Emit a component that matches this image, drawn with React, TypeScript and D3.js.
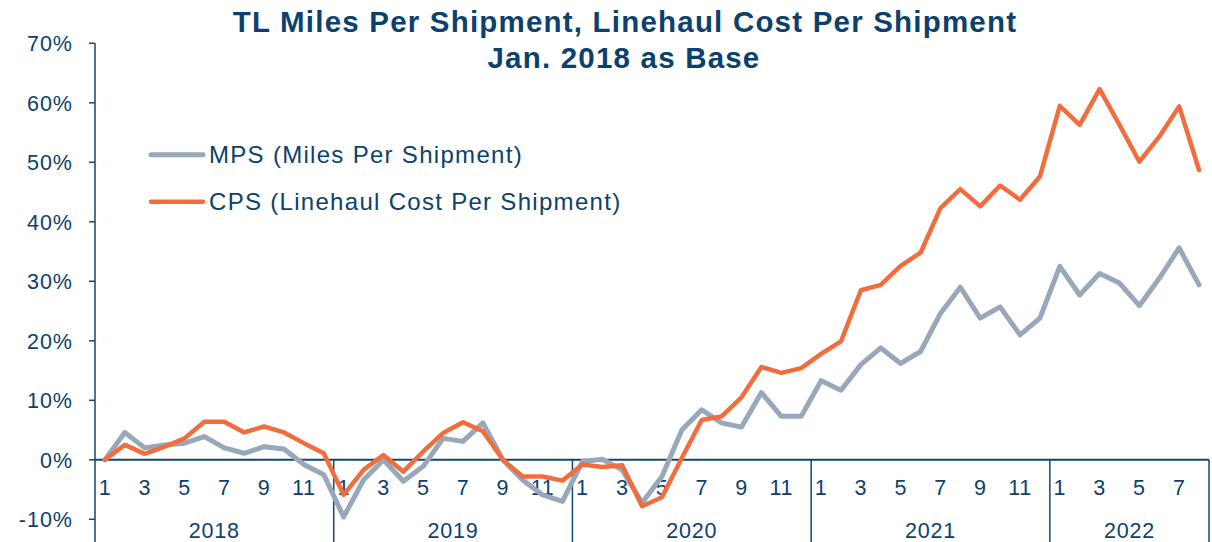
import React from "react";
import * as d3 from "d3";

const years = ["2018", "2019", "2020", "2021", "2022"];
const monthsPerYear = [12, 12, 12, 12, 8];
const yTicks = [-10, 0, 10, 20, 30, 40, 50, 60, 70];

const mps = [
  0, 4.6, 2.0, 2.5, 2.8, 3.9, 2.0, 1.1, 2.2, 1.8, -0.8, -2.5,
  -9.6, -3.4, 0, -3.6, -1.1, 3.6, 3.1, 6.2, 0, -3.4, -5.9, -7.0,
  -0.3, 0.1, -1.7, -7.2, -2.8, 5.0, 8.4, 6.2, 5.5, 11.3, 7.3, 7.3,
  13.3, 11.7, 16.0, 18.8, 16.2, 18.2, 24.6, 29.0, 23.8, 25.7, 21.0, 23.8,
  32.5, 27.7, 31.3, 29.7, 25.9, 30.5, 35.6, 29.4,
];

const cps = [
  0, 2.5, 1.0, 2.2, 3.6, 6.4, 6.4, 4.6, 5.6, 4.6, 2.8, 1.1,
  -5.9, -1.7, 0.8, -2.0, 1.4, 4.5, 6.3, 4.8, 0, -2.8, -2.8, -3.5,
  -0.8, -1.2, -0.9, -7.8, -6.3, 0.3, 6.7, 7.3, 10.5, 15.6, 14.6, 15.4,
  17.8, 19.9, 28.5, 29.4, 32.6, 34.8, 42.3, 45.5, 42.6, 46.1, 43.7, 47.6,
  59.5, 56.3, 62.3, 56.3, 50.1, 54.3, 59.4, 48.7,
];

const seriesNames = ["MPS (Miles Per Shipment)", "CPS (Linehaul Cost Per Shipment)"];

const W = 1212;
const H = 542;
const FONT = "'Liberation Sans', Arial, sans-serif";
const TEXT = "#0c416d";
const AXIS = "#15466f";
const GRAY = "#98a8ba";
const ORANGE = "#f26d3d";

export default function App() {
  const cats: { key: string; year: number; month: number }[] = [];
  years.forEach((y, yi) => {
    for (let m = 1; m <= monthsPerYear[yi]; m++) cats.push({ key: `${y}-${m}`, year: yi, month: m });
  });

  const left = 95;
  const right = 1209;
  const x = d3.scaleBand<string>().domain(cats.map((c) => c.key)).range([left, right]).paddingInner(0).paddingOuter(0);
  const y = d3.scaleLinear().domain([-10, 70]).range([519.3, 43.3]);
  const cx = (k: string) => (x(k) as number) + x.bandwidth() / 2;

  const line = d3
    .line<number>()
    .x((_, i) => cx(cats[i].key))
    .y((d) => y(d));

  const y0 = y(0);

  const bounds: number[] = [];
  let idx = 0;
  monthsPerYear.forEach((n) => {
    bounds.push(x(cats[idx].key) as number);
    idx += n;
  });
  bounds.push(right);

  return (
    <svg
      width={W}
      height={H}
      style={{ position: "absolute", left: 0, top: 0, background: "#fff" }}
      fontFamily={FONT}
    >
      <rect x={0} y={0} width={W} height={H} fill="#fff" />
      <text x={625} y={31.5} textAnchor="middle" fontSize={29.5} fontWeight="bold" fill={TEXT} letterSpacing={1.2}>
        TL Miles Per Shipment, Linehaul Cost Per Shipment
      </text>
      <text x={624} y={68} textAnchor="middle" fontSize={29.5} fontWeight="bold" fill={TEXT} letterSpacing={1.2}>
        Jan. 2018 as Base
      </text>

      <line x1={left} x2={left} y1={y(70)} y2={H} stroke={AXIS} strokeWidth={1.5} />
      {yTicks.map((t) => (
        <g key={t}>
          <line x1={left - 6} x2={left} y1={y(t)} y2={y(t)} stroke={AXIS} strokeWidth={1.5} />
          <text x={73} y={y(t)} dy="0.36em" textAnchor="end" fontSize={21.5} fill={TEXT} letterSpacing={1}>
            {`${t}%`}
          </text>
        </g>
      ))}

      <line x1={left} x2={right} y1={y0} y2={y0} stroke={AXIS} strokeWidth={2} />
      {bounds.slice(1).map((b, i) => (
        <line key={i} x1={b} x2={b} y1={y0} y2={H} stroke={AXIS} strokeWidth={1.5} />
      ))}
      {cats
        .filter((c) => c.month % 2 === 1)
        .map((c) => (
          <text key={c.key} x={cx(c.key)} y={495} textAnchor="middle" fontSize={21.5} fill={TEXT} letterSpacing={0.6}>
            {c.month}
          </text>
        ))}
      {years.map((yr, i) => (
        <text key={yr} x={(bounds[i] + bounds[i + 1]) / 2} y={538} textAnchor="middle" fontSize={21.5} fill={TEXT} letterSpacing={0.8}>
          {yr}
        </text>
      ))}

      <path d={line(mps) || ""} fill="none" stroke={GRAY} strokeWidth={5} strokeLinejoin="round" strokeLinecap="round" />
      <path d={line(cps) || ""} fill="none" stroke={ORANGE} strokeWidth={4.5} strokeLinejoin="round" strokeLinecap="round" />

      <line x1={151} x2={203} y1={154.7} y2={154.7} stroke={GRAY} strokeWidth={5} strokeLinecap="round" />
      <text x={209} y={162.7} fontSize={24} fill={TEXT} letterSpacing={1.3}>
        {seriesNames[0]}
      </text>
      <line x1={151} x2={203} y1={201.7} y2={201.7} stroke={ORANGE} strokeWidth={4.5} strokeLinecap="round" />
      <text x={209} y={209.5} fontSize={24} fill={TEXT} letterSpacing={1.3}>
        {seriesNames[1]}
      </text>
    </svg>
  );
}
